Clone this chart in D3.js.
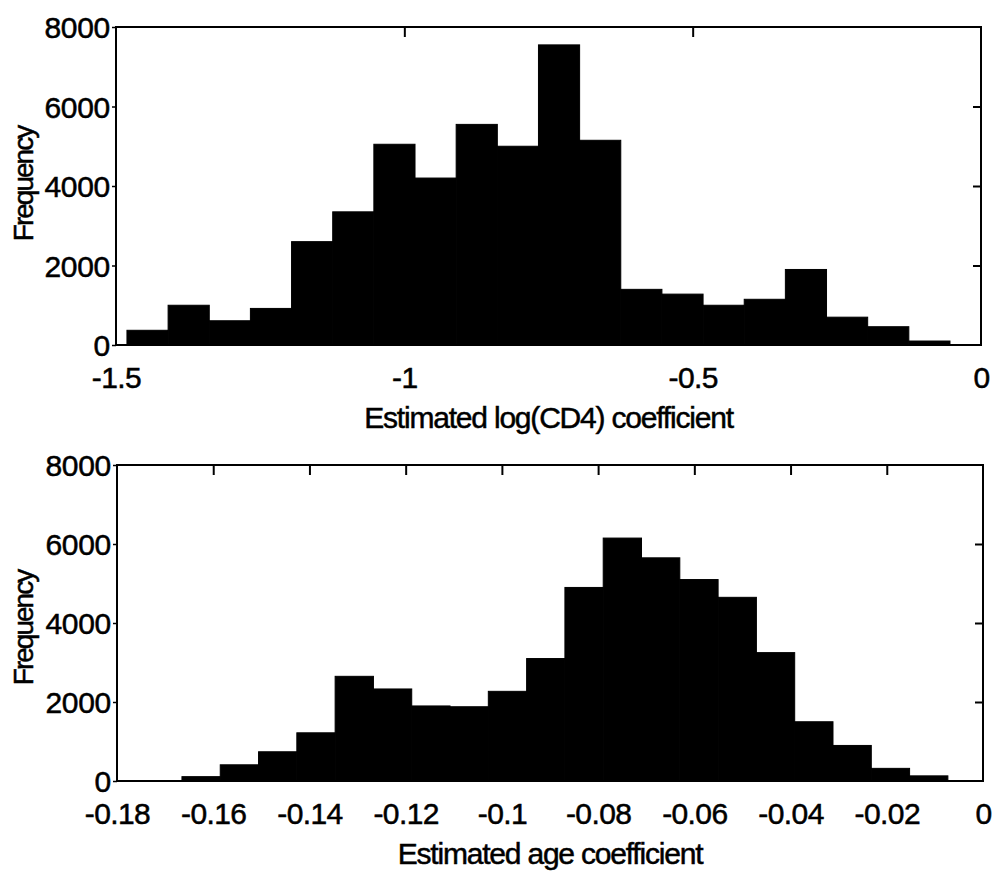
<!DOCTYPE html>
<html>
<head>
<meta charset="utf-8">
<script src="https://cdn.jsdelivr.net/npm/d3@7"></script>
<style>
  html, body { margin: 0; padding: 0; background: #fff; }
  svg { display: block; }
  text { font-family: "Liberation Sans", Arial, Helvetica, sans-serif; fill: #000;
         stroke: #000; stroke-width: 0.5px; }
</style>
</head>
<body>
<svg id="chart" width="995" height="872"></svg>
<script>
// Posterior draws of two regression coefficients, binned into 20 equal-width bins each.

// Panel 1: log(CD4) coefficient
const cd4BinStart = -1.481;
const cd4BinWidth = 0.07136;
const cd4Counts = [370, 1000, 610, 920, 2600, 3350, 5050, 4200, 5550, 5000,
                   7550, 5150, 1400, 1280, 1000, 1150, 1900, 700, 460, 100];
const cd4XTicks = [-1.5, -1, -0.5, 0];
const cd4XTickLabels = ["-1.5", "-1", "-0.5", "0"];
const cd4Title = "Estimated log(CD4) coefficient";

// Panel 2: age coefficient
const ageBinStart = -0.1665;
const ageBinWidth = 0.00796;
const ageCounts = [110, 410, 740, 1220, 2650, 2330, 1900, 1880, 2270, 3100,
                   4900, 6150, 5650, 5100, 4650, 3250, 1500, 900, 320, 130];
const ageXTicks = [-0.18, -0.16, -0.14, -0.12, -0.1, -0.08, -0.06, -0.04, -0.02, 0];
const ageXTickLabels = ["-0.18", "-0.16", "-0.14", "-0.12", "-0.1", "-0.08", "-0.06", "-0.04", "-0.02", "0"];
const ageTitle = "Estimated age coefficient";

// Shared frequency axis
const yTicks = [0, 2000, 4000, 6000, 8000];
const yTickLabels = ["0", "2000", "4000", "6000", "8000"];
const yTitle = "Frequency";

const svg = d3.select("#chart");

function drawPanel(cfg) {
  const { left, right, top, bottom, xDomain, binStart, binWidth, counts,
          xTicks, xLabels, title, titleBaseline, yTitleCenter } = cfg;

  const x = d3.scaleLinear().domain(xDomain).range([left, right]);
  const y = d3.scaleLinear().domain([0, 8000]).range([bottom, top]);

  const g = svg.append("g");

  // histogram bars
  const bins = counts.map((c, i) => ({
    x0: binStart + i * binWidth,
    x1: binStart + (i + 1) * binWidth,
    count: c
  }));
  g.append("g").selectAll("rect").data(bins).join("rect")
    .attr("x", d => x(d.x0))
    .attr("width", d => x(d.x1) - x(d.x0))
    .attr("y", d => y(d.count))
    .attr("height", d => y(0) - y(d.count))
    .attr("fill", "#000")
    .attr("stroke", "#000")
    .attr("stroke-width", 1);

  // bottom axis labels
  const xAxis = g.append("g")
    .attr("transform", `translate(0,${bottom})`)
    .call(d3.axisBottom(x).tickValues(xTicks)
      .tickFormat((d, i) => xLabels[i]).tickSize(0).tickPadding(0));
  xAxis.select(".domain").remove();
  xAxis.selectAll("text")
    .attr("y", 43).attr("dy", null)
    .style("font-size", "30px")
    .style("letter-spacing", "-0.6px");

  // top axis ticks (inward)
  const xTop = g.append("g")
    .attr("transform", `translate(0,${top})`)
    .call(d3.axisBottom(x).tickValues(xTicks.slice(1, -1)).tickFormat("").tickSize(10));
  xTop.select(".domain").remove();
  xTop.selectAll("line").attr("stroke", "#000").attr("stroke-width", 2);

  // left axis with labels
  const yAxis = g.append("g")
    .attr("transform", `translate(${left},0)`)
    .call(d3.axisLeft(y).tickValues(yTicks)
      .tickFormat((d, i) => yTickLabels[i]).tickSize(4).tickPadding(2));
  yAxis.select(".domain").remove();
  yAxis.selectAll("line").attr("stroke", "#000").attr("stroke-width", 1.5);
  yAxis.selectAll("text")
    .attr("dy", "0.36em")
    .style("font-size", "30px")
    .style("letter-spacing", "-0.3px");

  // right axis ticks (inward)
  const yRight = g.append("g")
    .attr("transform", `translate(${right},0)`)
    .call(d3.axisLeft(y).tickValues(yTicks.slice(1, -1)).tickFormat("").tickSize(8));
  yRight.select(".domain").remove();
  yRight.selectAll("line").attr("stroke", "#000").attr("stroke-width", 2);

  // frame
  g.append("rect")
    .attr("x", left).attr("y", top)
    .attr("width", right - left).attr("height", bottom - top)
    .attr("fill", "none").attr("stroke", "#000").attr("stroke-width", 2);

  // axis titles
  g.append("text")
    .attr("x", (left + right) / 2)
    .attr("y", titleBaseline)
    .attr("text-anchor", "middle")
    .style("font-size", "30px")
    .style("letter-spacing", "-1.2px")
    .text(title);

  g.append("text")
    .attr("transform", `translate(33,${yTitleCenter}) rotate(-90)`)
    .attr("text-anchor", "middle")
    .style("font-size", "28px")
    .style("letter-spacing", "-2px")
    .text(yTitle);
}

drawPanel({
  left: 116, right: 981, top: 27, bottom: 345,
  xDomain: [-1.5, 0],
  binStart: cd4BinStart, binWidth: cd4BinWidth, counts: cd4Counts,
  xTicks: cd4XTicks, xLabels: cd4XTickLabels,
  title: cd4Title, titleBaseline: 428, yTitleCenter: 184
});

drawPanel({
  left: 117, right: 983, top: 465, bottom: 781,
  xDomain: [-0.18, 0],
  binStart: ageBinStart, binWidth: ageBinWidth, counts: ageCounts,
  xTicks: ageXTicks, xLabels: ageXTickLabels,
  title: ageTitle, titleBaseline: 864, yTitleCenter: 628
});
</script>
</body>
</html>
